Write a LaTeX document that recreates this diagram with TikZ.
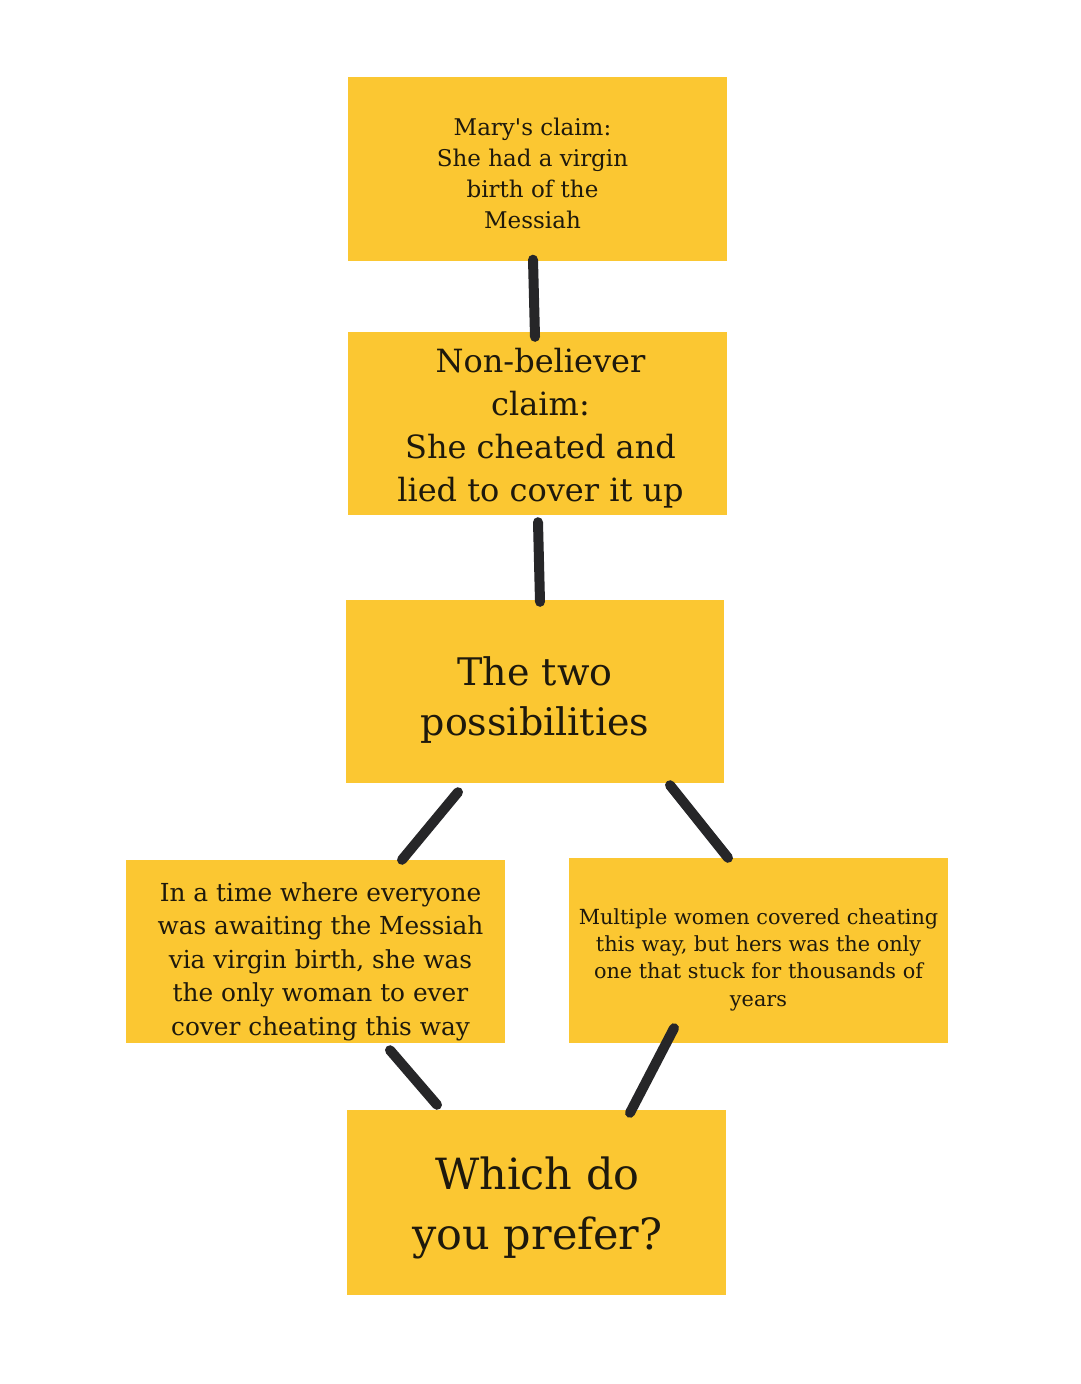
\documentclass[tikz,border=0pt]{standalone}
\usepackage{fontspec}
\setmainfont{DejaVu Serif}
\definecolor{boxyellow}{RGB}{251,199,50}
\definecolor{inktext}{RGB}{30,25,12}
\definecolor{connink}{RGB}{38,38,40}
\tikzset{
  card/.style={fill=boxyellow, draw=none, minimum width=379pt, minimum height=184pt, inner sep=0pt},
  cardtext/.style={align=center, text=inktext, inner sep=0pt},
  conn/.style={draw=connink, line width=10pt, line cap=round}
}
\begin{document}
\begin{tikzpicture}[x=1pt,y=-1pt]
\fill[white] (0,0) rectangle (1080,1384);
\useasboundingbox (0,0) rectangle (1080,1384);

\node[card] (b1) at (537.5,168.5) {};
\node[card, minimum height=183pt] (b2) at (537.5,423.5) {};
\node[card, minimum width=378pt, minimum height=183pt] (b3) at (535,691.5) {};
\node[card, minimum height=183pt] (bl) at (315.5,951.5) {};
\node[card, minimum height=185pt] (br) at (758.5,950.5) {};
\node[card, minimum height=185pt] (bb) at (536.5,1202.5) {};

\node[cardtext, font={\fontsize{23}{31}\selectfont}] (t1) at ([shift={(-5,5)}]b1.center) {Mary\textquotesingle s claim:\\She had a virgin\\birth of the\\Messiah};
\node[cardtext, font={\fontsize{32}{43}\selectfont}] (t2) at ([shift={(3,5)}]b2.center) {Non-believer\\claim:\\She cheated and\\lied to cover it up};
\node[cardtext, font={\fontsize{38}{50}\selectfont}] (t3) at ([shift={(0,9)}]b3.center) {The two\\possibilities};
\node[cardtext, font={\fontsize{24.8}{33.5}\selectfont}] (tl) at ([shift={(5,10)}]bl.center) {In a time where everyone\\was awaiting the Messiah\\via virgin birth, she was\\the only woman to ever\\cover cheating this way};
\node[cardtext, font={\fontsize{20.8}{27.3}\selectfont}] (tr) at ([shift={(0,9)}]br.center) {Multiple women covered cheating\\this way, but hers was the only\\one that stuck for thousands of\\years};
\node[cardtext, font={\fontsize{43}{60}\selectfont}] (tb) at ([shift={(1,5)}]bb.center) {Which do\\you prefer?};

\draw[conn] ([shift={(-4.5,-1)}]b1.south) -- ([shift={(-2.5,5)}]b2.north);
\draw[conn] ([shift={(0.5,7)}]b2.south) -- ([shift={(5,2)}]b3.north);
\draw[conn] ([shift={(-77,9)}]b3.south) -- ([shift={(86.5,0)}]bl.north);
\draw[conn] ([shift={(135,2)}]b3.south) -- ([shift={(-30.5,0)}]br.north);
\draw[conn] ([shift={(74.5,7)}]bl.south) -- ([shift={(-99.5,-5)}]bb.north);
\draw[conn] ([shift={(-84.5,-15)}]br.south) -- ([shift={(93.5,3)}]bb.north);
\end{tikzpicture}
\end{document}
